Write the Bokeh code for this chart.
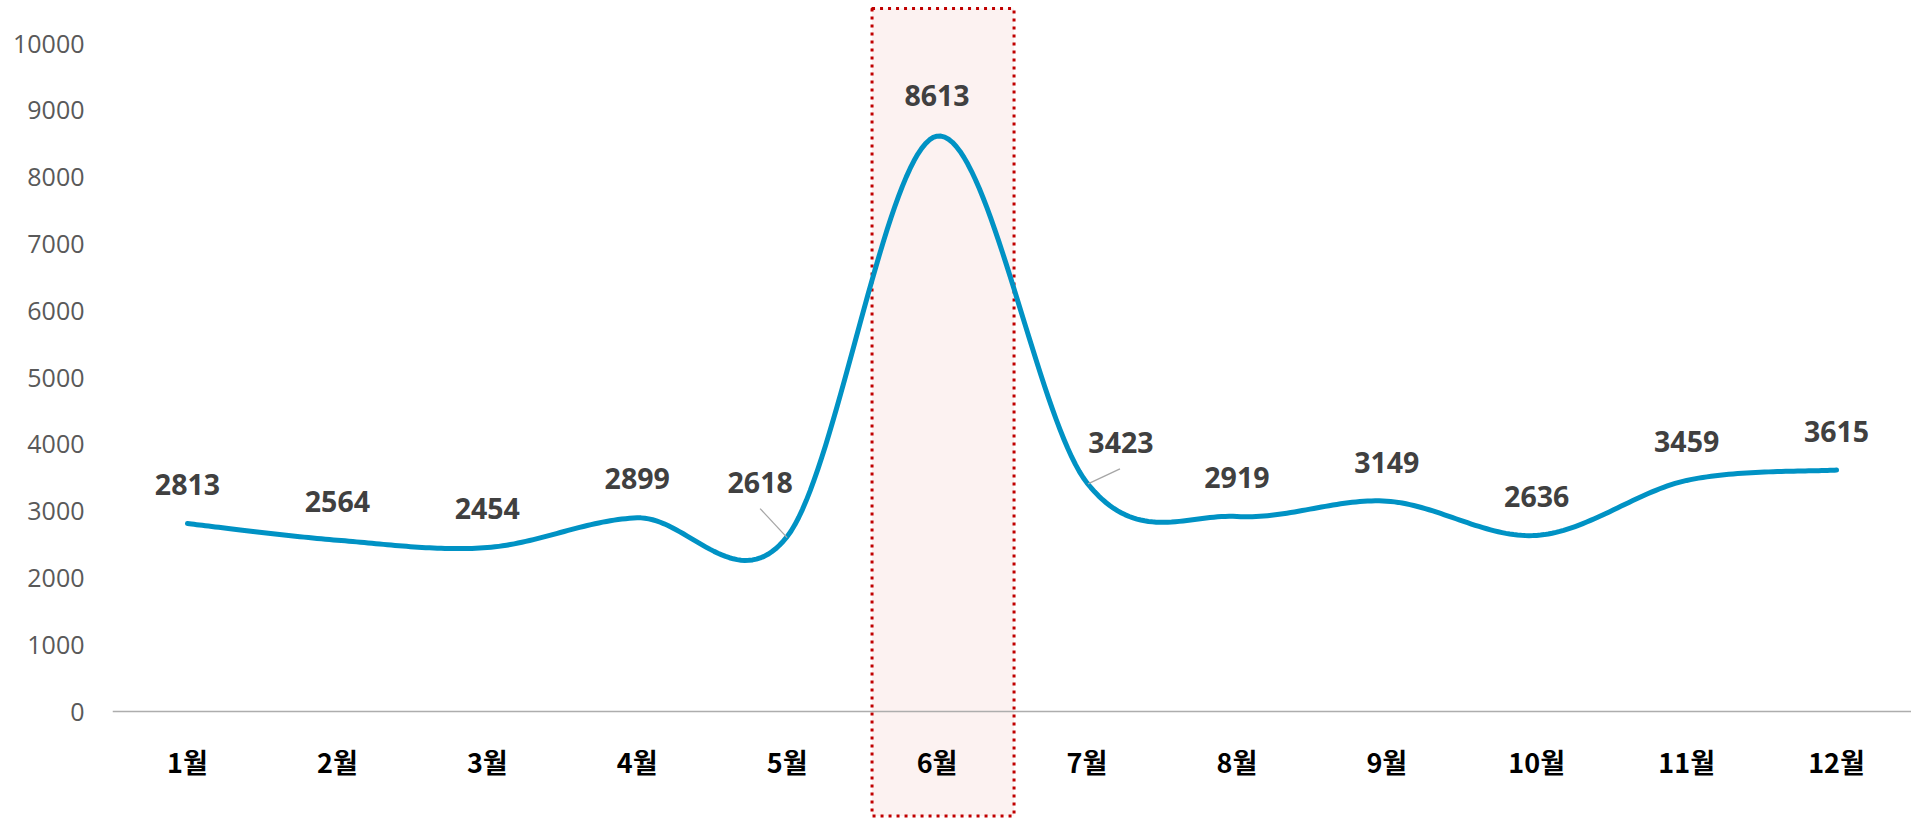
import numpy as np
from bokeh.plotting import figure
from bokeh.models import ColumnDataSource, FixedTicker, Span, Range1d
from bokeh.core.properties import value
from bokeh.embed import file_html
from bokeh.resources import INLINE

# ---------------- data ----------------
months = ["1월", "2월", "3월", "4월", "5월", "6월", "7월", "8월", "9월", "10월", "11월", "12월"]
sales = [2813, 2564, 2454, 2899, 2618, 8613, 3423, 2919, 3149, 2636, 3459, 3615]
y_ticks = [0, 1000, 2000, 3000, 4000, 5000, 6000, 7000, 8000, 9000, 10000]
highlight_month = "6월"

# ---------------- layout ----------------
W, H = 1911, 818
LEFT = 112
frame_w = W - LEFT
frame_h = H
px_per_cat = frame_w / len(months)
px_per_unit = 0.0668            # pixels per value unit
zero_from_top = 711             # pixel distance from frame top to value 0
y_end = zero_from_top / px_per_unit
y_start = -(frame_h - zero_from_top) / px_per_unit

def dx(px):
    return px / px_per_cat

def dy(px):  # screen pixels (down positive) -> data units
    return -px / px_per_unit

x = np.arange(len(months)) + 0.5
y = np.array(sales, dtype=float)

# smooth curve (Catmull-Rom as cubic Bezier, like a spreadsheet "smoothed line")
P = np.column_stack([x, y])
Pext = np.vstack([P[0], P, P[-1]])
cx, cy = [], []
t = np.linspace(0, 1, 40)
for i in range(len(P) - 1):
    p0, p1, p2, p3 = Pext[i], Pext[i + 1], Pext[i + 2], Pext[i + 3]
    c1 = p1 + (p2 - p0) / 6.0
    c2 = p2 - (p3 - p1) / 6.0
    b = ((1 - t) ** 3)[:, None] * p1 + (3 * (1 - t) ** 2 * t)[:, None] * c1 \
        + (3 * (1 - t) * t ** 2)[:, None] * c2 + (t ** 3)[:, None] * p2
    if i > 0:
        b = b[1:]
    cx.extend(b[:, 0])
    cy.extend(b[:, 1])

p = figure(width=W, height=H, x_range=Range1d(0, len(months)), y_range=Range1d(y_start, y_end),
           output_backend="svg", toolbar_location=None, x_axis_location=None,
           min_border_left=LEFT, min_border_right=0, min_border_top=0, min_border_bottom=0)
p.outline_line_color = None
p.grid.visible = False
p.background_fill_color = "white"
p.border_fill_color = "white"

ya = p.yaxis[0]
ya.ticker = FixedTicker(ticks=y_ticks)
ya.axis_line_color = None
ya.major_tick_line_color = None
ya.minor_tick_line_color = None
ya.major_tick_in = 0
ya.major_tick_out = 0
ya.major_label_standoff = 28
ya.major_label_text_font = "Open Sans"
ya.major_label_text_font_size = "25px"
ya.major_label_text_color = "#595959"

# highlight box around the peak month
hi = months.index(highlight_month) + 0.5
p.quad(left=[hi + dx(-65)], right=[hi + dx(77)],
       top=[y_end + dy(8)], bottom=[y_start - dy(2.5)],
       fill_color="#FCF2F1", line_color="#C00000", line_width=3, line_dash="3 5")

# axis line at zero
p.add_layout(Span(location=0, dimension="width", line_color="#ADADAD", line_width=1.5))

# line
p.line(cx, cy, line_color="#0092C4", line_width=5, line_cap="round", line_join="round")

# data labels
off_x = [0] * len(months)
off_y = [-39] * len(months)
off_x[4], off_y[4] = -27, -54
off_x[6], off_y[6] = 34, -40
off_y[5] = -41
lab_src = ColumnDataSource(dict(x=x, y=y, t=[str(v) for v in sales], ox=off_x, oy=off_y))
p.text(x="x", y="y", text="t", x_offset="ox", y_offset="oy", source=lab_src,
       text_align="center", text_baseline="middle", text_font=value("Open Sans"),
       text_font_style="bold", text_font_size="28.5px", text_color="#404040")

# leader lines for displaced labels
lx0 = [x[4] + dx(0), x[6] + dx(1)]
ly0 = [y[4] + dy(1), y[6] + dy(1)]
lx1 = [x[4] + dx(-27), x[6] + dx(33)]
ly1 = [y[4] + dy(-28), y[6] + dy(-14)]
p.segment(lx0, ly0, lx1, ly1, line_color="#A6A6A6", line_width=1.3)

# category labels
p.text(x=x, y=[0] * len(months), text=months, y_offset=50,
       text_align="center", text_baseline="middle", text_font=value("Noto Sans CJK KR"),
       text_font_style="bold", text_font_size="27px", text_color="#000000")

open("out.html", "w").write(file_html(p, INLINE))
